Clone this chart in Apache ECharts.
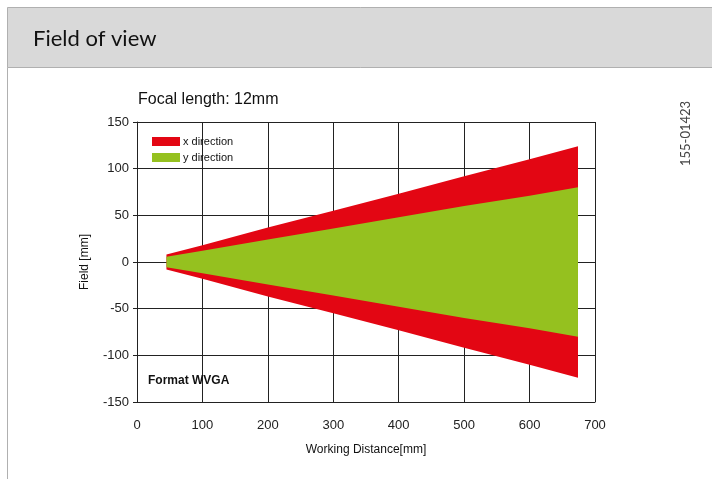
<!DOCTYPE html>
<html>
<head>
<meta charset="utf-8">
<script src="https://cdn.jsdelivr.net/npm/echarts@6/dist/echarts.min.js"></script>
<style>
  html, body { margin: 0; padding: 0; background: #fff; }
  #fov { width: 712px; height: 479px; }
</style>
</head>
<body>
<div id="fov"></div>
<script>
// working distance [mm]
const distance = [45, 100, 200, 300, 400, 500, 600, 674]
// half field in x direction [mm]
const xHalf = [8, 18, 37, 55, 73, 92, 110, 124]
// half field in y direction [mm]
const yHalf = [5.5, 12, 24, 36, 48, 60, 71, 80]

const red = '#e30613'
const green = '#95c11f'
const gridColor = '#222'

function pairs (vals, sign) {
  return distance.map((d, i) => [d, sign * vals[i]])
}

function area (name, data, color) {
  return {
    name: name,
    type: 'line',
    data: data,
    symbol: 'none',
    silent: true,
    color: color,
    lineStyle: { width: 0 },
    areaStyle: { color: color, opacity: 1, origin: 0 }
  }
}

const chart = echarts.init(document.getElementById('fov'))
const option = {
  animation: false,
  textStyle: { fontFamily: 'Liberation Sans' },
  title: {
    text: 'Focal length: 12mm',
    left: 133,
    top: 87,
    textStyle: { fontSize: 16, fontWeight: 'normal', color: '#111', fontFamily: 'Liberation Sans' }
  },
  legend: {
    data: ['x direction', 'y direction'],
    orient: 'vertical',
    left: 147,
    top: 131,
    itemWidth: 28,
    itemHeight: 9,
    itemGap: 5,
    icon: 'rect',
    textStyle: { fontSize: 11, color: '#111', padding: [0, 0, 0, -2] }
  },
  grid: { left: 137, right: 117, top: 122, bottom: 77 },
  xAxis: {
    type: 'value',
    min: 0,
    max: 700,
    interval: 100,
    name: 'Working Distance[mm]',
    nameLocation: 'middle',
    nameGap: 42,
    nameTextStyle: { fontSize: 12, color: '#111' },
    axisLine: { onZero: false, lineStyle: { color: gridColor } },
    axisTick: { show: false },
    axisLabel: { fontSize: 13, color: '#222', margin: 17 },
    splitLine: { lineStyle: { color: gridColor, width: 1 } }
  },
  yAxis: {
    type: 'value',
    min: -150,
    max: 150,
    interval: 50,
    name: 'Field [mm]',
    nameLocation: 'middle',
    nameGap: 46,
    nameTextStyle: { fontSize: 12, color: '#111' },
    axisLine: { show: true, lineStyle: { color: gridColor } },
    axisTick: { show: true, length: 4, lineStyle: { color: gridColor } },
    axisLabel: { fontSize: 13, color: '#222', margin: 8 },
    splitLine: { lineStyle: { color: gridColor, width: 1 } }
  },
  series: [
    area('x direction', pairs(xHalf, 1), red),
    area('x direction', pairs(xHalf, -1), red),
    area('y direction', pairs(yHalf, 1), green),
    area('y direction', pairs(yHalf, -1), green)
  ],
  graphic: [
    {
      type: 'rect',
      shape: { x: 7.5, y: 7.5, width: 720, height: 60 },
      style: { fill: '#d9d9d9', stroke: '#b0b0b0', lineWidth: 1 }
    },
    {
      type: 'line',
      shape: { x1: 7.5, y1: 67.5, x2: 7.5, y2: 479 },
      style: { stroke: '#b0b0b0', lineWidth: 1 }
    },
    {
      type: 'text',
      left: 33,
      top: 28,
      style: { text: 'Field of view', fontSize: 22, fill: '#111', fontFamily: 'Lato' }
    },
    {
      type: 'text',
      x: 679,
      y: 166,
      rotation: Math.PI / 2,
      style: { text: '155-01423', fontSize: 13, fill: '#444', fontFamily: 'Lato' }
    },
    {
      type: 'text',
      left: 148,
      top: 375,
      z: 10,
      style: { text: 'Format WVGA', fontSize: 12, fontWeight: 'bold', fill: '#111', fontFamily: 'Liberation Sans' }
    }
  ]
}
chart.setOption(option)
</script>
</body>
</html>
